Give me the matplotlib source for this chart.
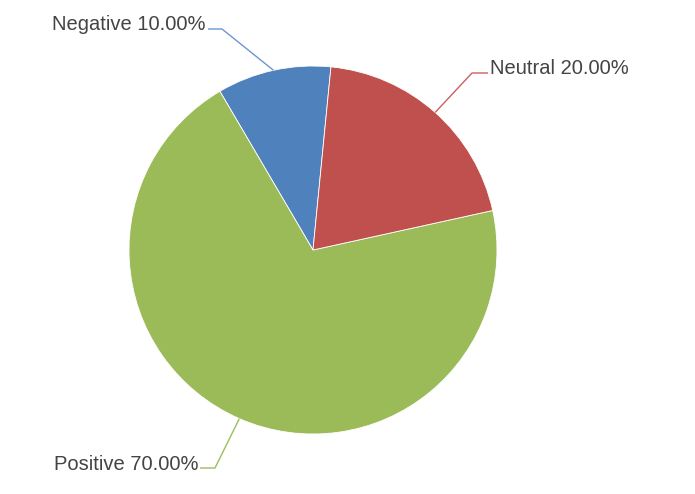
import numpy as np
import matplotlib
matplotlib.use('Agg')
import matplotlib.pyplot as plt

labels = ['Negative', 'Positive', 'Neutral']
values = [10, 70, 20]
colors = ['#4F81BD', '#9BBB59', '#C0504D']
line_colors = ['#6F96CC', '#9DBE5C', '#C9605D']

# label layout (pixel coords, y up): elbow point, text anchor x, alignment
elbows = [(222, 465), (215, 26), (472, 421)]
text_x = [206, 198, 490]
aligns = ['right', 'right', 'left']

W, H = 695, 494
fig = plt.figure(figsize=(W / 100, H / 100), dpi=100)
ax = fig.add_axes([0, 0, 1, 1])

center = (313, 244)
radius = 184
start = 84.4

wedges, _ = ax.pie(values, colors=colors, startangle=start, counterclock=True,
                   center=center, radius=radius,
                   wedgeprops=dict(edgecolor='white', linewidth=0.6))

total = sum(values)
for w, lab, v, el, tx, ha, lc in zip(wedges, labels, values, elbows, text_x, aligns, line_colors):
    mid = np.deg2rad((w.theta1 + w.theta2) / 2)
    px = center[0] + radius * np.cos(mid)
    py = center[1] + radius * np.sin(mid)
    ax.plot([px, el[0], tx + (2 if ha == 'right' else -2)], [py, el[1], el[1]],
            color=lc, lw=1, solid_capstyle='butt')
    ax.text(tx, el[1] + 4, f'{lab} {v / total * 100:.2f}%', ha=ha, va='center',
            fontsize=14.5, color='#444444', family=['Liberation Sans', 'DejaVu Sans'])

ax.set_xlim(0, W)
ax.set_ylim(0, H)
ax.set_aspect('auto')
ax.axis('off')

fig.savefig('out.png', dpi=100)
